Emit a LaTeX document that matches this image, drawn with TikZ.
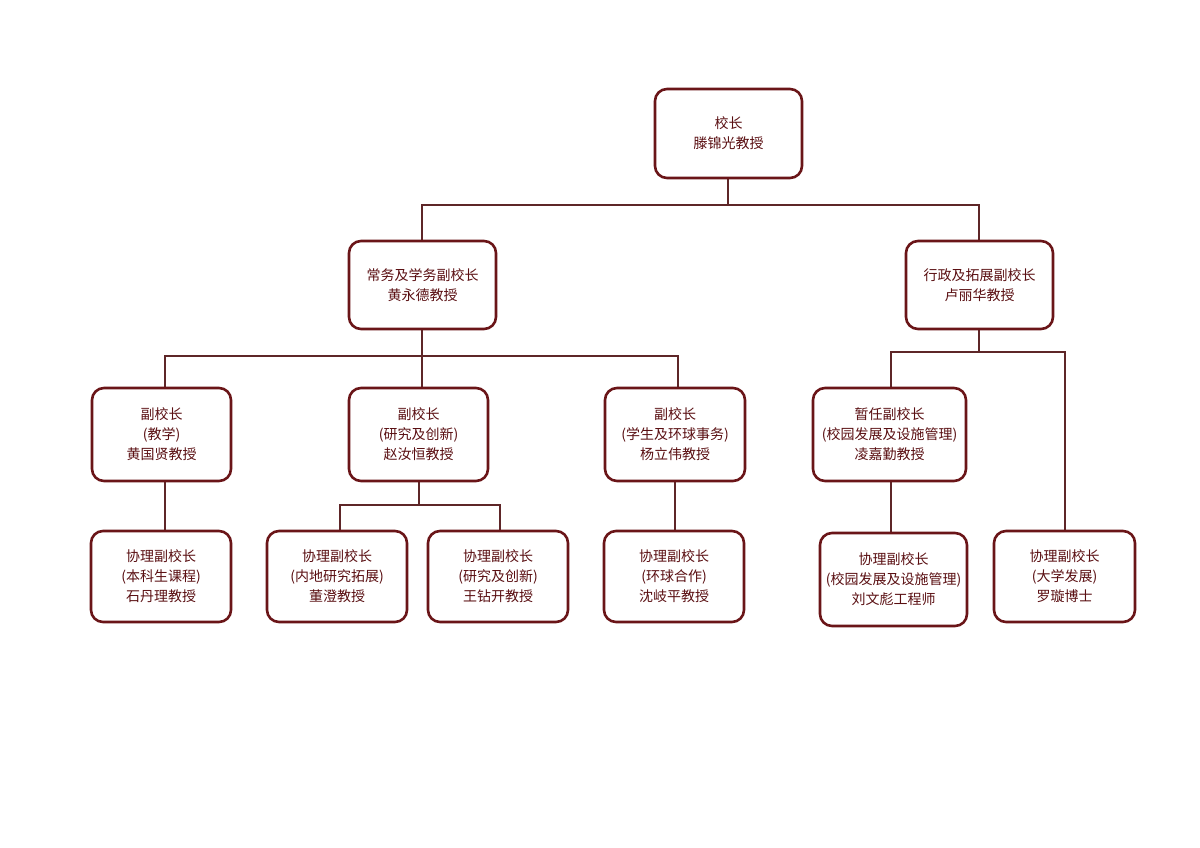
\documentclass[tikz,border=0pt]{standalone}
\usepackage{fontspec}
\setmainfont{Noto Sans CJK SC}
\begin{document}
\begin{tikzpicture}[x=1pt,y=-1pt,
 box/.style={draw=bx,line width=2.6pt,rounded corners=12pt,fill=white,align=center,
   text=tx,font=\fontsize{14}{20}\selectfont,inner sep=0pt},
 ln/.style={draw=cn,line width=2.4pt}]
\definecolor{bx}{HTML}{6A1518}
\definecolor{tx}{HTML}{5A0F12}
\definecolor{cn}{HTML}{5E2628}
\useasboundingbox (0,0) rectangle (1200,848);
% connectors
\coordinate (j1) at (728,205);
\draw[ln] (728,178) -- (j1) (422,241) |- (j1) -| (979,241);
\draw[ln] (422,329) -- (422,356) (165,388) |- (678,356) -- (678,388) (422,356) -- (422,388);
\draw[ln] (979,329) -- (979,352) (891,388) |- (1065,352) -- (1065,531);
\draw[ln] (165,481) -- (165,531) (419,481) -- (419,505) (340,531) |- (500,505) -- (500,531);
\draw[ln] (675,481) -- (675,531) (891,481) -- (891,533);
% nodes
\node[box,minimum width=147pt,minimum height=89pt] (top) at (728.5,133.5) {校长\\滕锦光教授};
\node[box,minimum width=147pt,minimum height=88pt] (l) at (422.5,285) {常务及学务副校长\\黄永德教授};
\node[box,minimum width=147pt,minimum height=88pt] (r) at (979.5,285) {行政及拓展副校长\\卢丽华教授};
\node[box,minimum width=139pt,minimum height=93pt] (a) at (161.5,434.5) {副校长\\(教学)\\黄国贤教授};
\node[box,minimum width=139pt,minimum height=93pt] (b) at (418.5,434.5) {副校长\\(研究及创新)\\赵汝恒教授};
\node[box,minimum width=140pt,minimum height=93pt] (c) at (675,434.5) {副校长\\(学生及环球事务)\\杨立伟教授};
\node[box,minimum width=153pt,minimum height=93pt] (d) at (889.5,434.5) {暂任副校长\\(校园发展及设施管理)\\凌嘉勤教授};
\node[box,minimum width=140pt,minimum height=91pt] (e) at (161,576.5) {协理副校长\\(本科生课程)\\石丹理教授};
\node[box,minimum width=140pt,minimum height=91pt] (f) at (337,576.5) {协理副校长\\(内地研究拓展)\\董澄教授};
\node[box,minimum width=140pt,minimum height=91pt] (g) at (498,576.5) {协理副校长\\(研究及创新)\\王钻开教授};
\node[box,minimum width=140pt,minimum height=91pt] (h) at (674,576.5) {协理副校长\\(环球合作)\\沈岐平教授};
\node[box,minimum width=147pt,minimum height=93pt] (i) at (893.5,579.5) {协理副校长\\(校园发展及设施管理)\\刘文彪工程师};
\node[box,minimum width=141pt,minimum height=91pt] (k) at (1064.5,576.5) {协理副校长\\(大学发展)\\罗璇博士};
\end{tikzpicture}
\end{document}
